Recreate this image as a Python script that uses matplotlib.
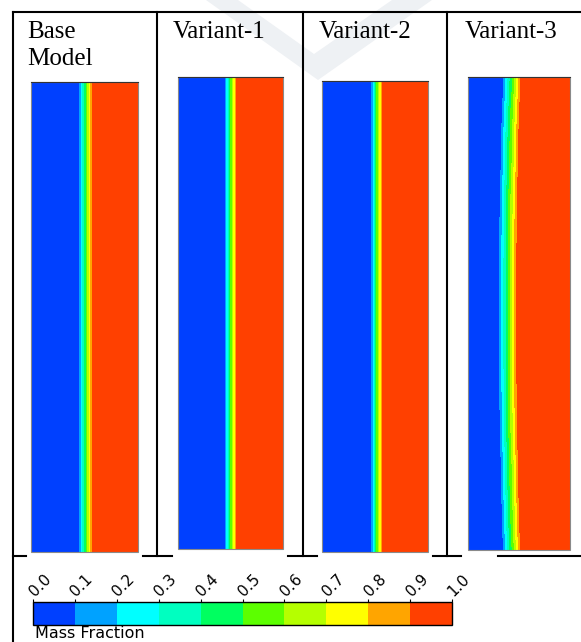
import numpy as np
import matplotlib.pyplot as plt
import matplotlib.patches as patches
import matplotlib.transforms as mtransforms
from matplotlib.colors import ListedColormap, BoundaryNorm
from matplotlib.cm import ScalarMappable

# dati
panel_names = ["Base Model", "Variant-1", "Variant-2", "Variant-3"]
levels = [0.0, 0.1, 0.2, 0.3, 0.4, 0.5, 0.6, 0.7, 0.8, 0.9, 1.0]
band_colors = ['#0040ff', '#00a2ff', '#00ffff', '#00ffc0', '#00ff60',
               '#5cff00', '#b5ff00', '#ffff00', '#ffa500', '#ff4000']

# posizione dell'interfaccia (frazione della larghezza) e spessore della transizione
interface_base = [0.51]
interface_v1 = [0.50]
interface_v2 = [0.514]
# variante 3: interfaccia curva, dall'alto verso il basso
interface_v3 = [0.431, 0.412, 0.402, 0.392, 0.390, 0.390, 0.390, 0.392, 0.402, 0.412, 0.426]
thickness = [0.15, 0.13, 0.13, 0.21]

# rettangoli dei pannelli in pixel (x0, y0, x1, y1)
panel_boxes = [(31, 82, 138, 552), (178, 77, 283, 549),
               (322, 81, 428, 552), (468, 77, 570, 550)]

fig = plt.figure(figsize=(5.81, 6.42), dpi=100)
ax = fig.add_axes([0, 0, 1, 1])

cmap = ListedColormap(band_colors)
norm = BoundaryNorm(levels, cmap.N)

# filigrana grigia
wm = patches.Polygon([(206, 0), (238, 0), (314, 54), (392, 0), (432, 0), (318, 80)],
                     closed=True, facecolor='#eef1f4', edgecolor='none', zorder=0)
ax.add_patch(wm)

# campi di frazione massica
profiles = [interface_base, interface_v1, interface_v2, interface_v3]
nx, ny = 300, 470
for (x0, y0, x1, y1), prof, t in zip(panel_boxes, profiles, thickness):
    u = (np.arange(nx) + 0.5) / nx
    v = (np.arange(ny) + 0.5) / ny
    if len(prof) == 1:
        c = np.full(ny, prof[0])
    else:
        c = np.interp(v, np.linspace(0, 1, len(prof)), prof)
    field = np.clip((u[None, :] - c[:, None]) / t + 0.5, 0, 0.999)
    ax.imshow(field, cmap=cmap, norm=norm, extent=(x0, x1, y1, y0),
              origin='upper', aspect='auto', interpolation='nearest', zorder=2)
    ax.add_patch(patches.Rectangle((x0, y0), x1 - x0, y1 - y0, fill=False,
                                   edgecolor='#8a8a8a', lw=0.8, zorder=3))
    ax.plot([x0, x1], [y0, y0], color='#333333', lw=0.8, zorder=3)

# linee della tabella
lw = 1.5
ax.plot([13, 581], [12, 12], color='black', lw=lw, zorder=1)
ax.plot([13, 13], [12, 642], color='black', lw=lw, zorder=1)
for xd in [157, 303, 447]:
    ax.plot([xd, xd], [12, 556], color='black', lw=lw, zorder=1)
for xa, xb in [(13, 26), (143, 172), (288, 317), (433, 461), (498, 581)]:
    ax.plot([xa, xb], [556, 556], color='black', lw=lw, zorder=1)

# titoli
tfont = dict(family='Liberation Serif', fontsize=18, va='baseline', ha='left')
ax.text(27, 38, "Base", **tfont)
ax.text(27, 65, "Model", **tfont)
ax.text(173, 38, "Variant-1", **tfont)
ax.text(319, 38, "Variant-2", **tfont)
ax.text(465, 38, "Variant-3", **tfont)

ax.set_xlim(0, 581)
ax.set_ylim(642, 0)
ax.axis('off')

# barra dei colori
cax = fig.add_axes([33 / 581, 1 - 625 / 642, 419 / 581, 23 / 642])
cb = fig.colorbar(ScalarMappable(norm=norm, cmap=cmap), cax=cax,
                  orientation='horizontal', ticks=levels)
cb.outline.set_linewidth(1.0)
cax.xaxis.set_ticks_position('top')
cax.tick_params(axis='x', length=2.5, width=0.8, labeltop=False, labelbottom=False)

# etichette ruotate a 45 gradi sopra la barra
lab_trans = mtransforms.offset_copy(cax.get_xaxis_transform(), fig=fig,
                                    x=1.5, y=5, units='dots')
for l in levels:
    cax.text(l, 1.0, f"{l:.1f}", transform=lab_trans, rotation=45,
             rotation_mode='anchor', ha='left', va='baseline',
             family='DejaVu Sans', fontsize=11, clip_on=False)

ax.text(35, 638, "Mass Fraction", family='DejaVu Sans', fontsize=11.5,
        va='baseline', ha='left')

fig.savefig('out.png', dpi=100)
